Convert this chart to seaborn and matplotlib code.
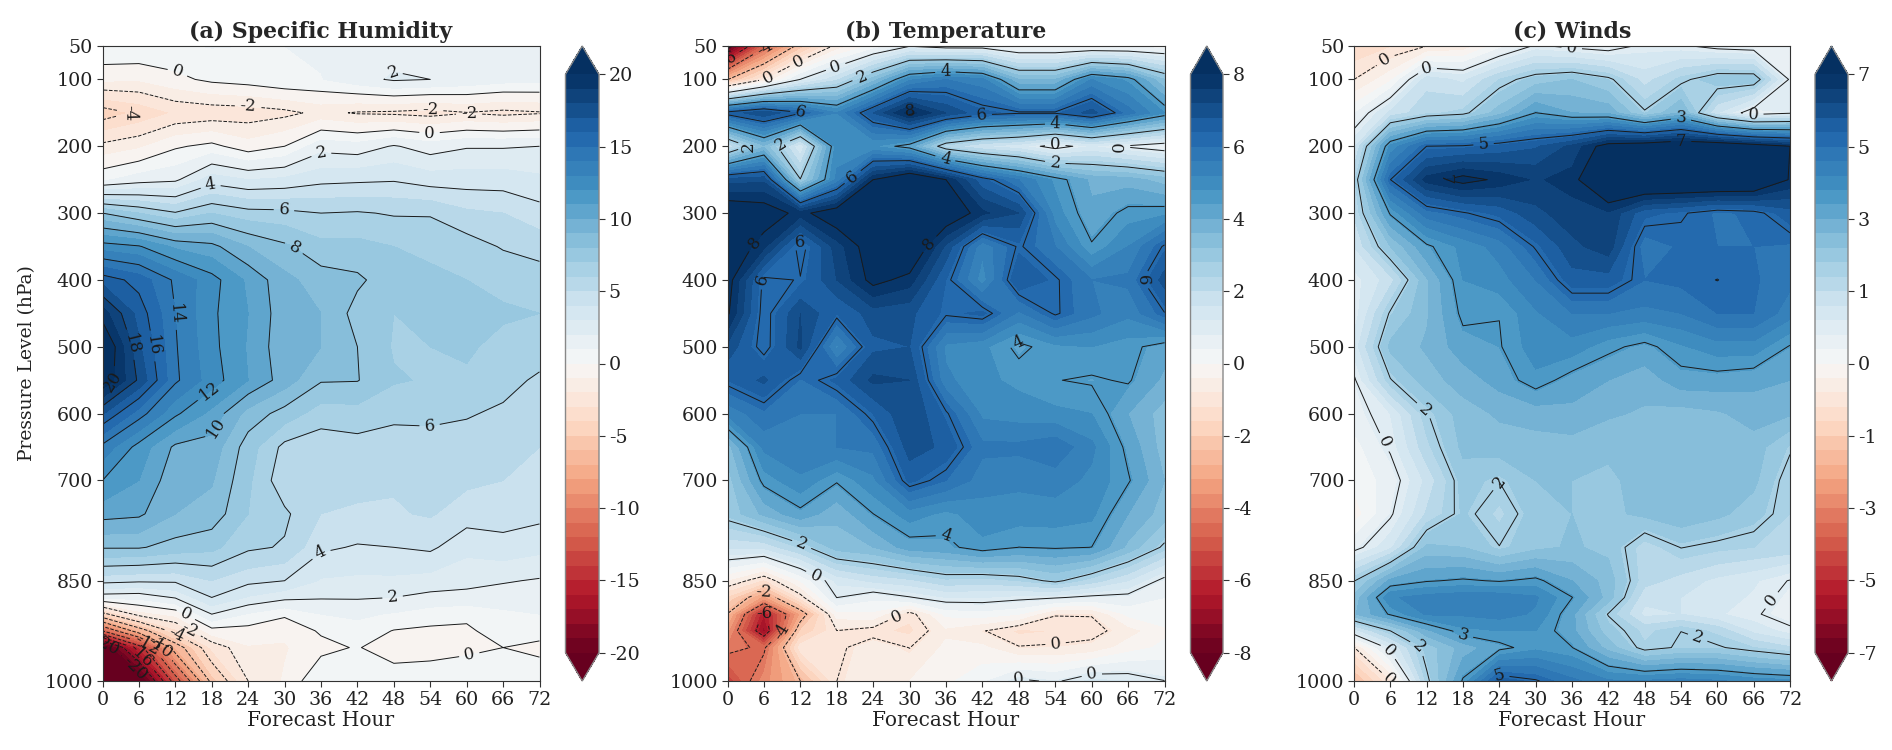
import numpy as np
import seaborn as sns
import matplotlib
matplotlib.use('Agg')
import matplotlib.pyplot as plt
from matplotlib.ticker import FormatStrFormatter

sns.set_theme(style='ticks')
plt.rcParams['font.family'] = ['DejaVu Serif']

hours = [0, 6, 12, 18, 24, 30, 36, 42, 48, 54, 60, 66, 72]
pressure = [50, 100, 150, 200, 250, 300, 350, 400, 450, 500, 550, 600, 650,
            700, 750, 800, 850, 875, 900, 925, 950, 1000]
pressure_ticks = [50, 100, 200, 300, 400, 500, 600, 700, 850, 1000]

# specific humidity, one list per forecast hour (top to bottom)
q_f000 = [1.0, -0.8, -4.6, -1.7, 0.8, 8.0, 12.5, 16.6, 19.5, 21.5, 21.0, 17.1, 13.7, 12.0, 10.4, 8.1, 4.4, 1.4, -4.5, -12, -22, -27]
q_f006 = [1.0, -0.9, -3.8, -1.2, 1.5, 7.0, 12.1, 15.6, 16.6, 17.2, 17.8, 14.5, 11.6, 11.0, 10.2, 8.1, 4.2, 1.3, -1.5, -7, -15, -22]
q_f012 = [0.9, -0.3, -2.9, -0.15, 1.8, 6.1, 10.8, 13.8, 14.0, 14.1, 14.2, 12.2, 9.8, 9.3, 9.0, 7.6, 4.2, 2.1, -0.7, -3.3, -7, -13]
q_f018 = [1.05, 0.25, -2.7, 0.3, 3.5, 7.0, 10.3, 12.4, 12.2, 12.3, 12.5, 10.7, 9.6, 9.1, 8.6, 7.3, 5.0, 4.0, 2.0, -0.4, -2.8, -5.5]
q_f024 = [1.0, 0.5, -2.6, -0.6, 3.0, 6.4, 9.0, 10.8, 11.0, 10.9, 11.0, 8.6, 7.5, 7.2, 7.0, 6.2, 4.3, 2.9, 0.9, -0.4, -1.1, -2.0]
q_f030 = [1.0, 0.9, -2.3, 0.0, 3.2, 6.3, 8.2, 9.3, 9.4, 9.3, 9.5, 7.6, 5.7, 5.3, 6.2, 5.9, 4.0, 2.3, 0.2, -0.8, -1.1, -0.9]
q_f036 = [1.2, 0.95, -1.7, 1.6, 3.7, 6.0, 7.3, 8.5, 9.0, 9.0, 8.1, 6.5, 5.4, 5.1, 5.0, 4.2, 2.9, 2.1, 1.0, 0.15, -0.35, 1.0]
q_f042 = [1.3, 1.6, -2.1, 1.4, 3.8, 6.1, 7.3, 8.2, 7.6, 8.0, 8.05, 6.6, 5.6, 5.2, 4.9, 3.9, 2.8, 2.1, 1.2, 0.6, 0.1, 1.0]
q_f048 = [1.5, 2.15, -2.2, 2.1, 3.9, 5.9, 7.0, 7.4, 7.0, 6.9, 7.1, 6.3, 5.4, 5.1, 4.9, 4.0, 2.8, 2.0, 0.9, -0.05, -0.8, 0.9]
q_f054 = [1.4, 2.0, -2.4, 1.5, 3.5, 5.9, 6.8, 7.2, 7.2, 7.0, 6.9, 6.3, 5.5, 5.3, 5.1, 4.2, 2.6, 1.7, 0.5, -0.2, -0.6, 0.9]
q_f060 = [1.3, 1.7, -2.05, 1.9, 3.5, 5.2, 6.5, 7.0, 7.2, 7.1, 6.9, 6.1, 5.5, 5.2, 4.5, 3.3, 2.3, 1.7, 0.2, -0.15, -0.25, 0.8]
q_f066 = [1.3, 1.4, -2.3, 1.9, 3.5, 5.0, 5.9, 6.8, 7.1, 6.8, 6.4, 5.8, 5.3, 5.0, 4.5, 3.6, 2.1, 1.5, 0.8, 0.4, 0.0, 0.7]
q_f072 = [1.1, 1.3, -2.1, 2.0, 3.2, 4.4, 5.6, 6.5, 7.0, 6.6, 5.8, 5.3, 5.0, 4.7, 4.3, 3.3, 1.9, 1.4, 1.0, 0.3, -0.2, 0.5]
humidity = np.array([q_f000, q_f006, q_f012, q_f018, q_f024, q_f030, q_f036,
                     q_f042, q_f048, q_f054, q_f060, q_f066, q_f072]).T

# temperature, one row per pressure level
temperature = np.array([
    [-8.5, -4.7, -2.3, -0.7, 0.1, 0.85, 0.6, 0.6, 0.2, 0.2, 0.2, 0.2, 0.2],
    [-2.7, -0.9, 0.9, 1.9, 3.4, 5.1, 5.6, 5.3, 3.6, 3.6, 5.2, 4.7, 3.2],
    [6.5, 7.2, 6.3, 5.2, 6.8, 8.2, 7.2, 6.5, 6.3, 6.3, 7.0, 5.8, 4.8],
    [1.6, 3.5, 1.2, 5.0, 4.8, 4.2, 2.2, 1.6, 1.3, 0.6, 1.2, 0.8, 0.5],
    [7.0, 7.1, 2.7, 5.3, 8.0, 8.9, 8.0, 6.5, 5.6, 4.7, 3.9, 3.8, 3.4],
    [8.6, 8.4, 7.8, 8.5, 9.0, 9.2, 8.6, 7.7, 7.2, 5.0, 4.1, 4.6, 4.7],
    [8.6, 7.7, 6.0, 7.4, 8.4, 8.8, 7.1, 5.3, 6.3, 5.6, 4.5, 5.2, 6.3],
    [8.3, 6.1, 6.25, 7.2, 8.2, 7.8, 6.4, 5.0, 6.8, 6.3, 5.6, 5.7, 7.0],
    [8.1, 6.0, 7.2, 6.4, 7.0, 6.9, 6.3, 6.5, 5.5, 6.3, 5.7, 5.3, 6.2],
    [7.1, 6.0, 7.3, 5.1, 6.7, 6.8, 5.1, 4.9, 4.3, 4.7, 4.8, 4.6, 4.2],
    [6.4, 6.9, 5.95, 6.5, 7.3, 7.2, 5.3, 4.9, 4.7, 4.46, 4.38, 4.5, 3.9],
    [5.3, 5.9, 5.6, 5.6, 6.4, 7.2, 6.3, 5.1, 5.0, 4.9, 4.8, 4.0, 3.4],
    [3.4, 5.3, 5.6, 5.6, 5.7, 7.0, 6.7, 5.7, 5.7, 5.9, 5.3, 4.3, 3.4],
    [3.0, 4.6, 5.1, 4.5, 5.1, 6.5, 6.0, 5.4, 5.3, 5.4, 5.1, 4.5, 3.6],
    [2.9, 3.7, 4.3, 3.7, 4.44, 5.0, 4.7, 5.0, 5.0, 5.0, 4.9, 4.0, 3.4],
    [1.7, 1.7, 2.45, 3.4, 3.6, 4.2, 4.3, 4.7, 4.44, 4.5, 4.44, 3.5, 2.55],
    [-0.45, -1.3, 0.0, 1.3, 1.7, 1.9, 2.3, 2.2, 2.4, 2.8, 2.2, 1.6, 0.7],
    [-1.7, -3.4, -1.1, 0.9, 0.5, 0.85, 1.2, 1.2, 1.05, 0.95, 0.75, 0.7, 0.4],
    [-2.7, -6.4, -3.2, -0.2, -0.1, -1.1, 0.1, 0.2, 0.0, -0.85, -0.85, 0.1, 0.3],
    [-3.5, -7.0, -2.0, -0.9, -1.1, -1.3, -0.5, -0.85, -1.3, -1.2, -1.1, -0.6, -0.1],
    [-4.2, -4.6, -1.0, -1.0, -0.6, -0.9, -0.3, -0.3, -0.85, -0.8, -0.7, -0.2, 0.1],
    [-5.5, -3.8, -2.67, -0.89, -0.5, -0.4, -0.1, 0.3, 1.0, 0.8, 1.3, 1.2, 0.9],
])

# winds, one row per pressure level
winds = np.array([
    [-1.3, -1.1, -0.78, -0.6, 0.2, 0.85, 0.65, 0.5, 0.9, 0.85, 0.6, 0.5, 0.5],
    [-0.78, -0.1, 1.6, 1.3, 2.1, 2.6, 2.8, 2.45, 1.6, 2.2, 2.7, 2.7, 0.7],
    [0.3, 1.5, 2.0, 2.2, 3.0, 3.9, 3.5, 3.4, 2.4, 3.2, 1.4, 0.45, 0.7],
    [1.3, 4.3, 5.45, 5.5, 5.7, 5.9, 6.4, 7.3, 7.5, 7.7, 7.7, 7.4, 7.0],
    [2.0, 5.44, 6.8, 7.2, 6.9, 6.6, 6.8, 7.9, 8.0, 8.0, 8.0, 7.9, 6.95],
    [1.8, 3.95, 5.1, 5.4, 5.7, 6.2, 6.5, 6.6, 5.7, 5.5, 5.2, 5.3, 5.8],
    [1.4, 2.8, 3.8, 4.3, 4.7, 5.5, 6.2, 6.5, 5.05, 5.3, 5.25, 5.25, 5.2],
    [0.9, 1.6, 3.1, 4.2, 4.4, 4.9, 5.8, 5.8, 5.25, 5.35, 5.45, 5.3, 5.0],
    [0.85, 2.4, 3.1, 4.0, 3.9, 4.5, 4.9, 4.9, 4.8, 4.9, 5.25, 5.25, 4.7],
    [1.2, 2.9, 3.2, 3.7, 3.85, 4.4, 4.4, 4.0, 3.75, 4.15, 4.4, 4.4, 3.85],
    [0.7, 2.3, 3.0, 3.3, 3.65, 4.1, 3.7, 3.5, 3.3, 3.7, 3.7, 3.6, 3.5],
    [0.55, 1.05, 2.3, 3.0, 3.2, 3.3, 3.4, 3.2, 3.1, 3.0, 3.1, 3.3, 3.2],
    [0.2, 0.85, 2.0, 2.9, 3.0, 3.0, 3.0, 2.9, 2.9, 2.8, 3.0, 3.0, 2.4],
    [0.1, 0.5, 1.5, 2.6, 2.35, 2.8, 2.8, 2.7, 3.0, 2.9, 3.0, 2.9, 2.1],
    [-0.2, 0.7, 1.8, 2.5, 2.0, 2.65, 2.8, 2.7, 2.9, 3.1, 2.9, 2.6, 2.1],
    [0.6, 1.3, 2.9, 2.8, 2.35, 2.7, 2.85, 2.7, 1.9, 2.35, 2.2, 2.1, 2.0],
    [2.3, 3.6, 3.85, 3.95, 3.85, 4.0, 3.5, 3.0, 1.9, 1.6, 1.3, 1.1, 0.75],
    [2.9, 4.5, 4.7, 4.8, 4.8, 4.6, 3.9, 3.0, 1.5, 1.4, 1.2, 1.0, 0.6],
    [3.1, 3.95, 4.6, 4.6, 4.7, 4.5, 3.6, 2.3, 1.3, 1.4, 1.1, 0.85, 0.5],
    [1.2, 2.33, 3.4, 4.1, 4.2, 4.2, 3.6, 2.6, 2.0, 2.33, 2.0, 1.3, 0.9],
    [-0.8, 1.0, 2.6, 3.3, 3.75, 4.1, 3.9, 3.0, 2.15, 2.4, 2.4, 2.1, 1.8],
    [-2.2, -0.8, 2.2, 3.95, 5.8, 5.5, 5.0, 4.6, 4.6, 4.7, 4.6, 4.4, 4.3],
])

# where the contour labels sit (hour, hPa)
labels_q = [(12, 97), (24, 132), (4.9, 150), (47.8, 89), (54, 139), (60.4, 150), (53.9, 179),
            (36, 206), (17.8, 258), (29.9, 295), (31.8, 349), (12.8, 451), (3.9, 499), (8.1, 499),
            (1.4, 548), (18, 569), (17.9, 616), (53.9, 619), (36, 809), (47.8, 875), (13.9, 898),
            (60, 943), (14.2, 925), (12, 934), (9.5, 948), (7.4, 945), (6.1, 963), (0.7, 945), (4.4, 991)]
labels_t = [(0.3, 71), (6.5, 57), (6.3, 88), (12.1, 80), (18, 86), (22.2, 97), (35.9, 88), (12, 150),
            (29.9, 145), (41.9, 154), (54, 165), (54, 193), (64.5, 197), (4.3, 197), (8.7, 197),
            (35.9, 218), (54, 225), (20.8, 248), (12, 338), (4.8, 347), (33.6, 349), (5.7, 399),
            (67.5, 399), (47.9, 494), (35.9, 759), (12.1, 798), (14.1, 850), (6.3, 861), (6.1, 895),
            (27.7, 898), (9, 927), (54, 940), (47.9, 993), (60, 986)]
labels_w = [(5.9, 81), (12, 79), (35.9, 59), (65.9, 154), (54, 156), (54, 186), (21.4, 197), (11.7, 250),
            (5.9, 639), (11.2, 599), (23.8, 698), (67.9, 872), (17.9, 934), (5.9, 954), (10.7, 950),
            (56.2, 949), (24, 987), (5.7, 999)]

titles = ['(a) Specific Humidity', '(b) Temperature', '(c) Winds']
panels = [humidity, temperature, winds]
limits = [20, 8, 7]
line_counts = [21, 10, 10]
label_spots = [labels_q, labels_t, labels_w]

# pixel boxes: axes left/right, colorbar left/right
boxes = [(102.5, 539.5, 565.5, 599), (727.5, 1164.5, 1190.5, 1223), (1354, 1790, 1815, 1848)]
W, H = 1892, 750
TOP, BOTTOM = 46, 681

cmap = sns.color_palette('RdBu', as_cmap=True)
fig = plt.figure(figsize=(W / 100, H / 100), dpi=100)

for i in range(3):
    x0, x1, cx0, cx1 = boxes[i]
    ax = fig.add_axes([x0 / W, 1 - BOTTOM / H, (x1 - x0) / W, (BOTTOM - TOP) / H])
    vmax = limits[i]
    fill = ax.contourf(hours, pressure, panels[i], levels=np.linspace(-vmax, vmax, 41),
                       cmap=cmap, extend='both')
    lines = ax.contour(hours, pressure, panels[i], levels=np.linspace(-vmax, vmax, line_counts[i]),
                       colors='k', linewidths=0.7)
    ax.set_ylim(1000, 50)
    ax.clabel(lines, inline=True, fontsize=12, fmt='%d', manual=label_spots[i])

    ax.set_xticks(hours)
    ax.set_yticks(pressure_ticks)
    ax.tick_params(labelsize=13.7, length=4, width=0.8, pad=3, color='#333333', labelcolor='#222222')
    ax.set_xlabel('Forecast Hour', fontsize=14.5, labelpad=2, color='#222222')
    if i == 0:
        ax.set_ylabel('Pressure Level (hPa)', fontsize=13.5, labelpad=6, color='#222222')
    ax.set_title(titles[i], fontsize=15.8, fontweight='bold', pad=6)
    for s in ax.spines.values():
        s.set_linewidth(0.8)
        s.set_color('#333333')

    cax = fig.add_axes([cx0 / W, 1 - BOTTOM / H, (cx1 - cx0) / W, (BOTTOM - TOP) / H])
    cb = fig.colorbar(fill, cax=cax, extend='both', extendfrac=0.049,
                      ticks=np.linspace(-vmax, vmax, 9), format=FormatStrFormatter('%d'))
    cb.ax.tick_params(labelsize=13.7, length=4, width=0.8, pad=3, color='#333333', labelcolor='#222222')
    cb.outline.set_linewidth(1.0)
    cb.outline.set_edgecolor('#888888')

fig.savefig('out.png', dpi=100)
